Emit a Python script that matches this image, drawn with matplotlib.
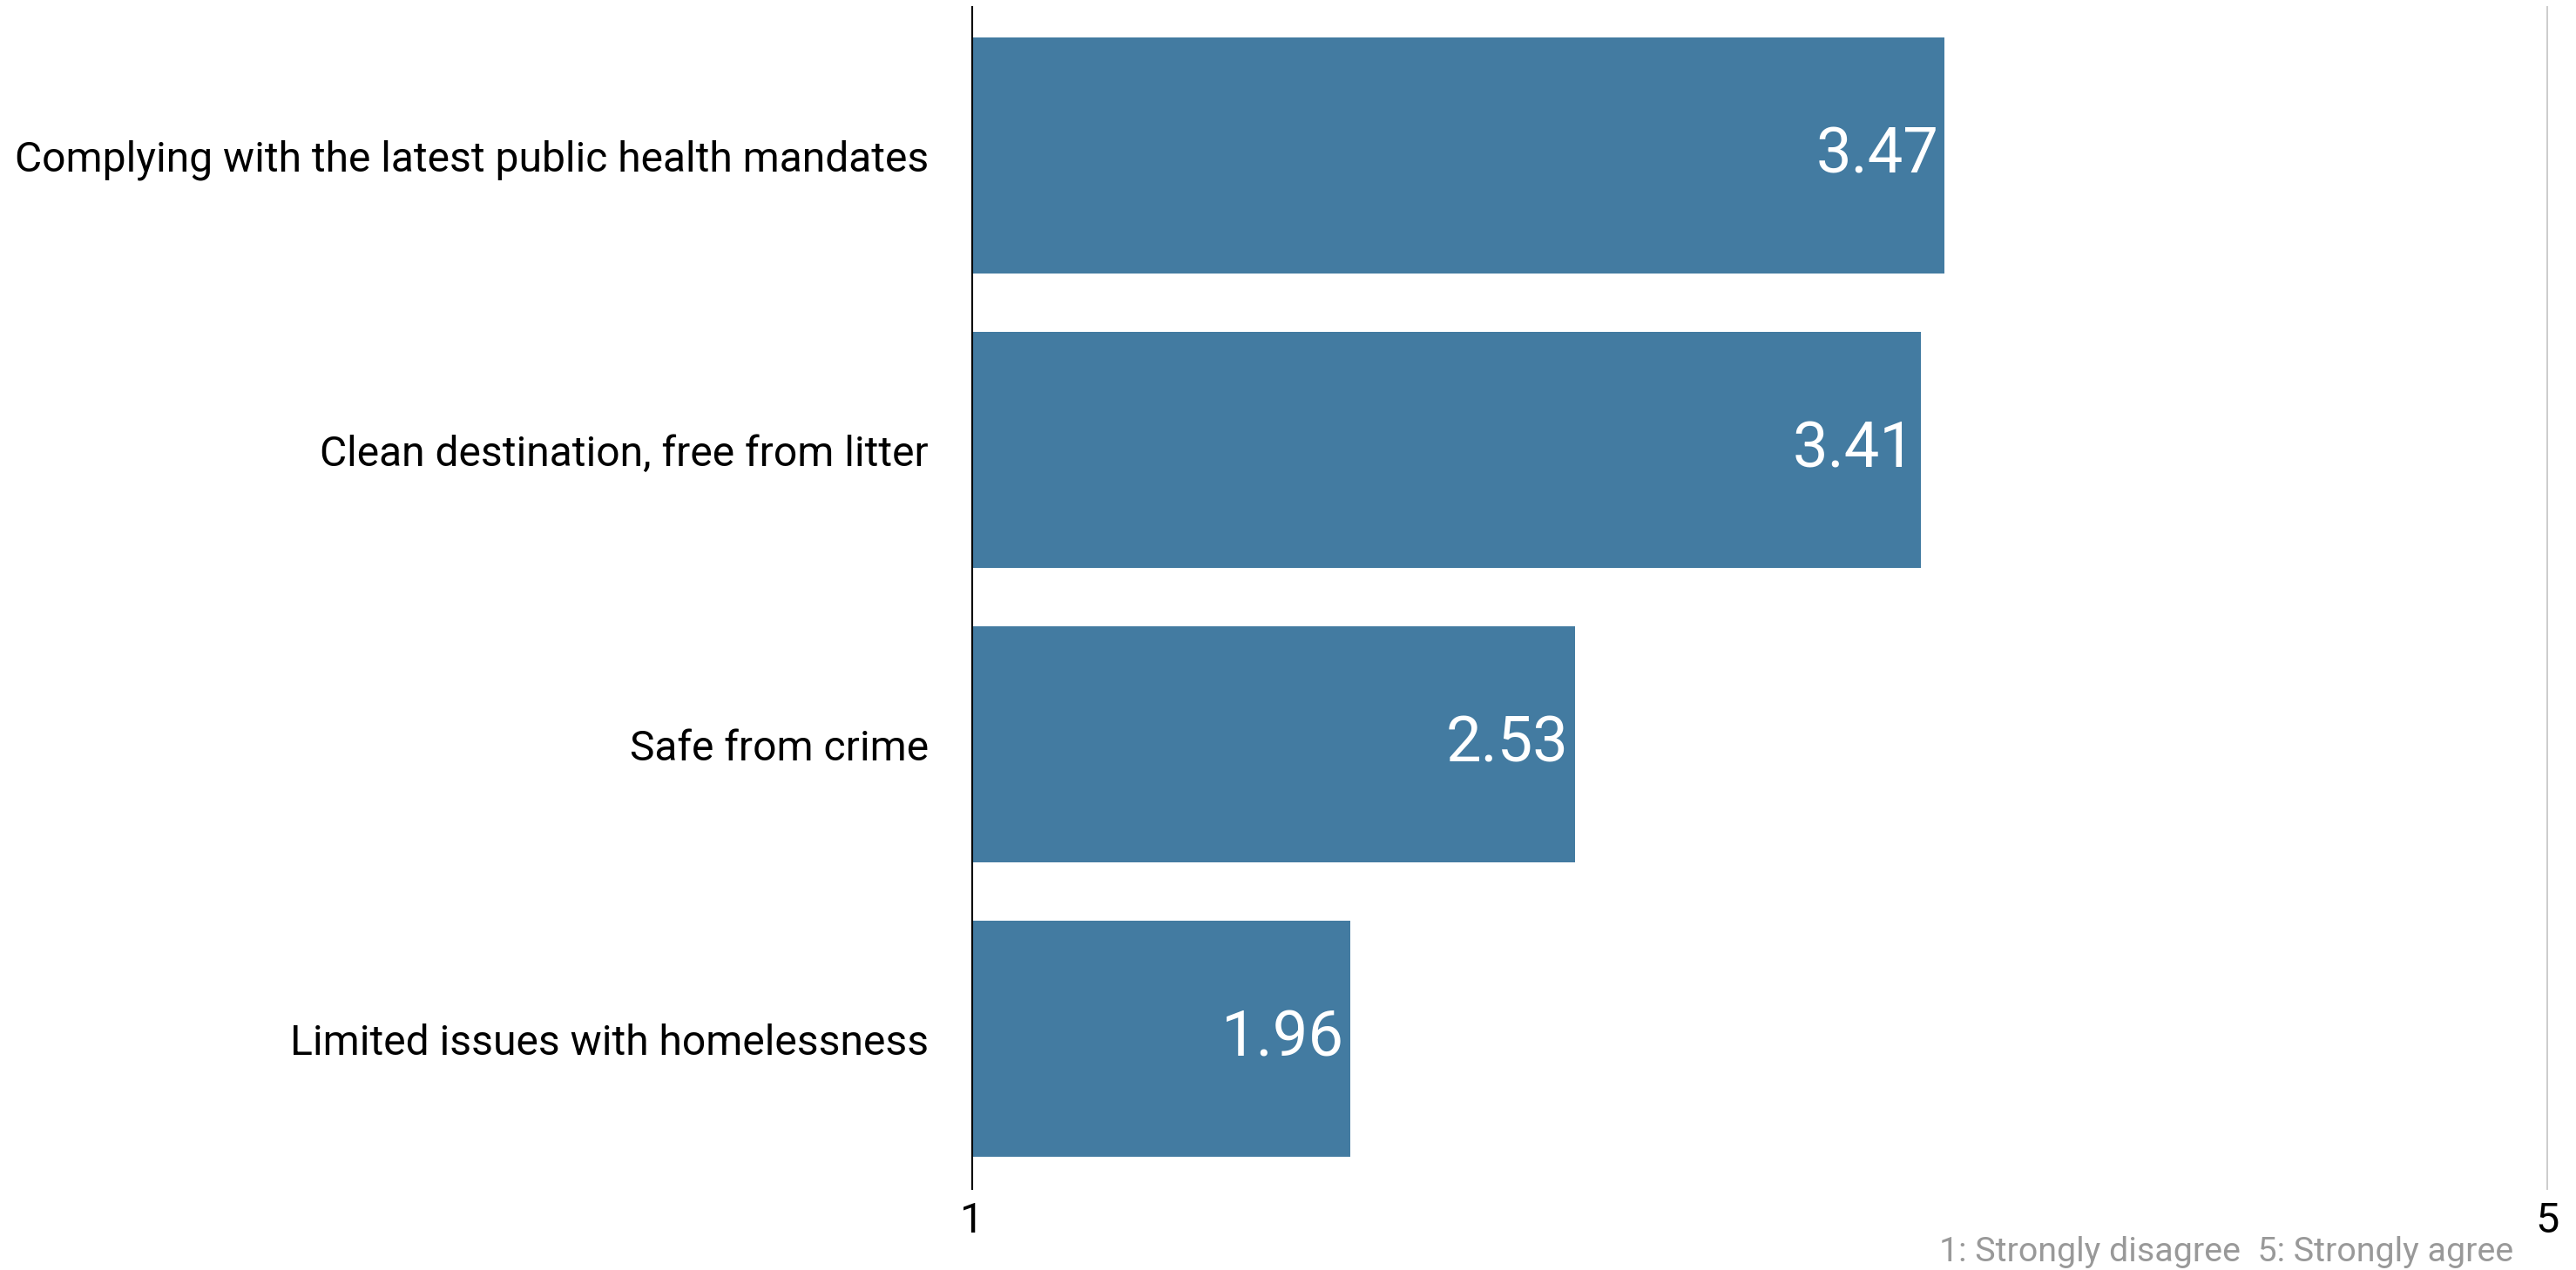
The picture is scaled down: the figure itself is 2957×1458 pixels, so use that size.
import matplotlib
matplotlib.use("Agg")
import matplotlib.pyplot as plt
import numpy as np

plt.rcParams["font.family"] = ["Roboto", "DejaVu Sans"]

categories = [
    "Complying with the latest public health mandates",
    "Clean destination, free from litter",
    "Safe from crime",
    "Limited issues with homelessness",
]
scores = [3.47, 3.41, 2.53, 1.96]
x_ticks = [1, 5]
scale_note = "1: Strongly disagree  5: Strongly agree"

W, H, DPI = 2957, 1458, 200
fig = plt.figure(figsize=(W / DPI, H / DPI), dpi=DPI)
ax = fig.add_axes([1116 / W, 1 - 1365 / H, (2924 - 1116) / W, (1365 - 8) / H])

bar_color = "#437ba1"
y = np.arange(len(categories))
vals = np.array(scores)
ax.barh(y, vals - 1, left=1, height=0.8, color=bar_color, zorder=2)

for yi, v in zip(y, scores):
    ax.annotate(f"{v:.2f}", xy=(v, yi), xytext=(-2.5, 0), textcoords="offset points",
                ha="right", va="center", color="white", fontsize=26)

ax.set_xlim(1, 5)
ax.set_ylim(3.51, -0.505)
ax.set_xticks(x_ticks)
ax.set_xticklabels([str(t) for t in x_ticks])
ax.set_yticks(y)
ax.set_yticklabels(categories)
ax.tick_params(axis="x", length=0, pad=5, labelsize=17.5, colors="black")
ax.tick_params(axis="y", length=0, pad=18, labelsize=17.3, colors="black")

for s in ["top", "bottom"]:
    ax.spines[s].set_visible(False)
ax.spines["left"].set_color("black")
ax.spines["left"].set_linewidth(0.75)
ax.spines["left"].set_zorder(3)
ax.spines["right"].set_color("#cccccc")
ax.spines["right"].set_linewidth(0.7)

fig.text(2885 / W, 1 - 1448 / H, scale_note, ha="right", va="baseline",
         color="#999999", fontsize=14.2)

fig.savefig("out.png", dpi=DPI, facecolor="white")
